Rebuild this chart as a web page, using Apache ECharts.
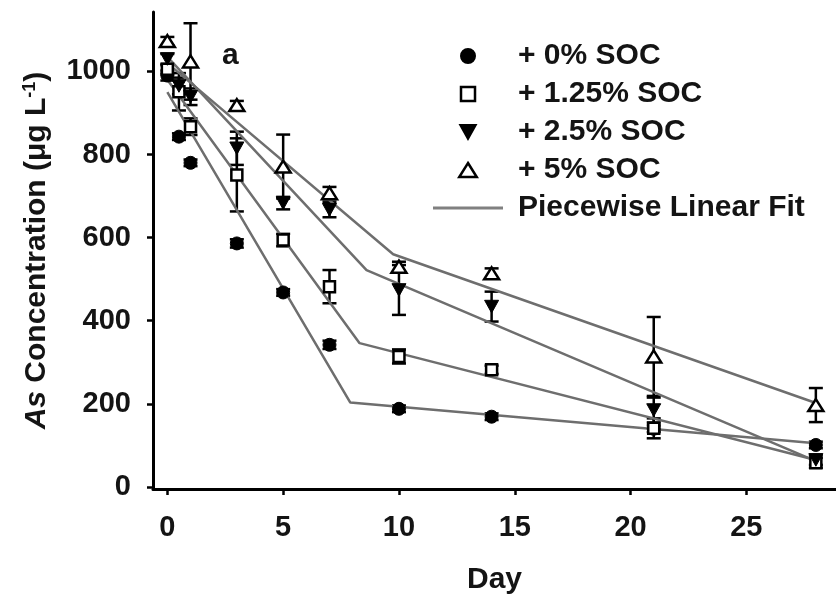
<!DOCTYPE html>
<html>
<head>
<meta charset="utf-8">
<script src="https://cdn.jsdelivr.net/npm/echarts@6/dist/echarts.min.js"></script>
<style>
html,body{margin:0;padding:0;background:#fff;}
#chart{width:836px;height:600px;}
</style>
</head>
<body>
<div id="chart"></div>
<script>
// ---- data ----
const days = [0, 0.5, 1, 3, 5, 7, 10, 14, 21, 28];
const soc0 = [990, 843, 780, 586, 468, 342, 188, 169, 140, 101];
const soc0Err = [12, 8, 8, 10, 8, 10, 8, 8, 8, 8];
const soc125 = [1005, 951, 867, 751, 594, 482, 314, 282, 141, 58];
const soc125Err = [10, 45, 20, 88, 15, 40, 17, 10, 24, 12];
const soc25 = [1030, 965, 939, 815, 683, 667, 474, 434, 185, 65];
const soc25Err = [12, 20, 20, 40, 15, 18, 60, 36, 30, 12];
const soc5 = [1073, null, 1024, 919, 771, 707, 530, 514, 314, 197];
const soc5Err = [10, null, 92, 10, 77, 15, 12, 12, 95, 41];

const fitDays0 = [0, 7.9, 28];
const fit0 = [950, 203, 105];
const fitDays125 = [0, 8.3, 28];
const fit125 = [980, 346, 65];
const fitDays25 = [0, 8.6, 28];
const fit25 = [1035, 522, 62];
const fitDays5 = [0, 9.75, 28];
const fit5 = [1020, 560, 202];

const xTicks = [0, 5, 10, 15, 20, 25];
const yTicks = [0, 200, 400, 600, 800, 1000];
const seriesNames = ['+ 0% SOC', '+ 1.25% SOC', '+ 2.5% SOC', '+ 5% SOC'];
const fitName = 'Piecewise Linear Fit';

// ---- build ----
const FONT = "'Liberation Sans', Arial, sans-serif";
const TXT = '#141414';

function pts(xs, ys) {
  const out = [];
  xs.forEach((x, i) => { if (ys[i] != null) out.push([x, ys[i]]); });
  return out;
}
function errs(xs, ys, es) {
  const out = [];
  xs.forEach((x, i) => { if (ys[i] != null && es[i] != null) out.push([x, ys[i] - es[i], ys[i] + es[i]]); });
  return out;
}
function errSeries(data) {
  return {
    type: 'custom',
    data: data,
    silent: true,
    z: 2,
    encode: { x: 0, y: [1, 2] },
    renderItem: function (params, api) {
      const x = api.value(0);
      const lo = api.coord([x, api.value(1)]);
      const hi = api.coord([x, api.value(2)]);
      const w = 7;
      const st = { stroke: '#000', lineWidth: 2.5 };
      return {
        type: 'group',
        children: [
          { type: 'line', shape: { x1: lo[0], y1: lo[1], x2: hi[0], y2: hi[1] }, style: st },
          { type: 'line', shape: { x1: lo[0] - w, y1: lo[1], x2: lo[0] + w, y2: lo[1] }, style: st },
          { type: 'line', shape: { x1: hi[0] - w, y1: hi[1], x2: hi[0] + w, y2: hi[1] }, style: st }
        ]
      };
    }
  };
}
function fitSeries(xs, ys) {
  return {
    name: fitName, type: 'line', data: pts(xs, ys), symbol: 'none', showSymbol: false, z: 3,
    lineStyle: { color: '#6e6e6e', width: 2.5 }, itemStyle: { color: '#6e6e6e' },
    silent: true, animation: false
  };
}
const downTri = 'path://M0,0 L10,0 L5,9 Z';
const upTri = 'path://M5,0 L10,8 L0,8 Z';
const square = 'path://M0,0 L10,0 L10,10 L0,10 Z';
function scat(name, ys, symbol, size, filled) {
  return {
    name: name, type: 'scatter', data: pts(days, ys), symbol: symbol, symbolSize: size,
    symbolKeepAspect: true, z: 5,
    itemStyle: filled ? { color: '#000', borderColor: '#000', borderWidth: 1, opacity: 1 }
                      : { color: '#fff', borderColor: '#000', borderWidth: 2.5, opacity: 1 }
  };
}

const chart = echarts.init(document.getElementById('chart'), null, { renderer: 'canvas' });
chart.setOption({
  animation: false,
  backgroundColor: '#fff',
  textStyle: { fontFamily: FONT },
  grid: { left: 153, right: 0, top: 12, bottom: 111, containLabel: false },
  title: {
    text: 'a', left: 217, top: 36,
    textStyle: { fontFamily: FONT, fontSize: 30, fontWeight: 'bold', color: TXT }
  },
  legend: {
    orient: 'vertical', left: 433, top: 41, padding: 0,
    itemWidth: 70, itemHeight: 14, itemGap: 8,
    data: [
      { name: seriesNames[0], icon: 'circle' },
      { name: seriesNames[1], icon: square, itemStyle: { borderWidth: 2.5 } },
      { name: seriesNames[2], icon: downTri },
      { name: seriesNames[3], icon: upTri, itemStyle: { borderWidth: 2.5 } },
      { name: fitName, icon: 'path://M0,0 L70,0 L70,3 L0,3 Z', itemStyle: { color: '#808080', borderWidth: 0 } }
    ],
    textStyle: { fontFamily: FONT, fontSize: 30, fontWeight: 'bold', color: TXT, padding: [0, 0, 0, 10] }
  },
  xAxis: {
    type: 'value', min: -0.62, max: 28.87,
    name: 'Day', nameLocation: 'middle', nameGap: 76,
    nameTextStyle: { fontFamily: FONT, fontSize: 30, fontWeight: 'bold', color: TXT },
    axisLine: { onZero: false, lineStyle: { color: '#000', width: 3 } },
    axisTick: { show: true, length: 6, lineStyle: { color: '#000', width: 2.5 }, customValues: xTicks },
    axisLabel: { fontFamily: FONT, fontSize: 29, fontWeight: 'bold', color: TXT, margin: 24, customValues: xTicks,
      formatter: function (v) { return String(v); } },
    splitLine: { show: false }
  },
  yAxis: {
    type: 'value', min: -5, max: 1143,
    name: '{it|As} Concentration (μg L{sup|-1})',
    nameLocation: 'middle', nameRotate: 90, nameGap: 100,
    nameTextStyle: {
      fontFamily: FONT, fontSize: 30, fontWeight: 'bold', color: TXT,
      rich: {
        it: { fontFamily: FONT, fontSize: 30, fontWeight: 'bold', fontStyle: 'italic', color: TXT },
        sup: { fontFamily: FONT, fontSize: 18, fontWeight: 'bold', color: TXT, padding: [0, 0, 14, 0] }
      }
    },
    axisLine: { onZero: false, lineStyle: { color: '#000', width: 3 } },
    axisTick: { show: true, length: 6, lineStyle: { color: '#000', width: 2.5 }, customValues: yTicks },
    axisLabel: { fontFamily: FONT, fontSize: 29, fontWeight: 'bold', color: TXT, margin: 22, customValues: yTicks,
      formatter: function (v) { return String(v); } },
    splitLine: { show: false }
  },
  series: [
    errSeries(errs(days, soc0, soc0Err)),
    errSeries(errs(days, soc125, soc125Err)),
    errSeries(errs(days, soc25, soc25Err)),
    errSeries(errs(days, soc5, soc5Err)),
    fitSeries(fitDays0, fit0),
    fitSeries(fitDays125, fit125),
    fitSeries(fitDays25, fit25),
    fitSeries(fitDays5, fit5),
    scat(seriesNames[0], soc0, 'circle', 13, true),
    scat(seriesNames[1], soc125, square, 11, false),
    scat(seriesNames[2], soc25, downTri, 14, true),
    scat(seriesNames[3], soc5, upTri, 15, false)
  ]
});
</script>
</body>
</html>
